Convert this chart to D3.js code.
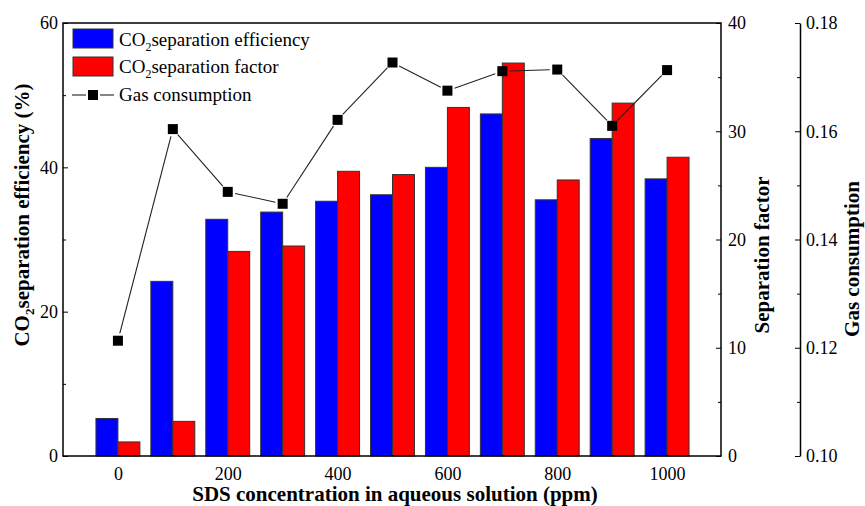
<!DOCTYPE html>
<html>
<head>
<meta charset="utf-8">
<script src="https://cdn.jsdelivr.net/npm/d3@7"></script>
<style>
  body { margin: 0; background: #fff; }
  svg, svg text { font-family: "Liberation Serif", "Times New Roman", serif; }
  .axis text { font-size: 18px; fill: #000; font-family: "Liberation Serif", serif; }
  .axis path, .axis line { stroke: #000; }
  .title { font-size: 21px; font-weight: bold; }
  .legend text { font-size: 19px; }
</style>
</head>
<body>
<div id="chart"></div>
<script>
// SDS concentration (ppm)
var concentrations = [0, 100, 200, 300, 400, 500, 600, 700, 800, 900, 1000];
// CO2 separation efficiency (%) - left axis
var efficiency = [5.2, 24.2, 32.8, 33.8, 35.3, 36.2, 40.0, 47.4, 35.5, 44.0, 38.4];
// CO2 separation factor - right axis
var sepFactor = [1.3, 3.2, 18.9, 19.4, 26.3, 26.0, 32.2, 36.3, 25.5, 32.6, 27.6];
// gas consumption - outer right axis
var gasUse = [0.1213, 0.1604, 0.1488, 0.1466, 0.1621, 0.1727, 0.1675, 0.1711, 0.1714, 0.1610, 0.1713];

var xTicks = [0, 200, 400, 600, 800, 1000];
var leftTicks = [0, 20, 40, 60],
    leftMinor = [10, 30, 50];
var rightTicks = [0, 10, 20, 30, 40],
    rightMinor = [5, 15, 25, 35];
var gasTicks = [0.10, 0.12, 0.14, 0.16, 0.18],
    gasMinor = [0.11, 0.13, 0.15, 0.17];

var W = 865, H = 506;
var plot = {left: 63, right: 721, top: 23, bottom: 456};
var gasAxisX = 800;
var halfBar = 40;

var svg = d3.select("#chart").append("svg")
    .attr("width", W)
    .attr("height", H);

var x = d3.scaleLinear().domain([-100, 1100]).range([plot.left, 722]);
var yL = d3.scaleLinear().domain([0, 60]).range([plot.bottom, plot.top]);
var yR = d3.scaleLinear().domain([0, 40]).range([plot.bottom, plot.top]);
var yG = d3.scaleLinear().domain([0.10, 0.18]).range([plot.bottom, plot.top]);

// bars
svg.append("g").selectAll("rect")
    .data(concentrations)
  .enter().append("rect")
    .attr("x", function (d) { return x(d - halfBar); })
    .attr("y", function (d, i) { return yL(efficiency[i]); })
    .attr("width", function (d) { return x(d) - x(d - halfBar); })
    .attr("height", function (d, i) { return plot.bottom - yL(efficiency[i]); })
    .attr("fill", "#0000ff")
    .attr("stroke", "#333")
    .attr("stroke-width", 1);

svg.append("g").selectAll("rect")
    .data(concentrations)
  .enter().append("rect")
    .attr("x", function (d) { return x(d); })
    .attr("y", function (d, i) { return yR(sepFactor[i]); })
    .attr("width", function (d) { return x(d + halfBar) - x(d); })
    .attr("height", function (d, i) { return plot.bottom - yR(sepFactor[i]); })
    .attr("fill", "#ff0000")
    .attr("stroke", "#333")
    .attr("stroke-width", 1);

// gas consumption line, segments stop short of the markers
var pts = concentrations.map(function (d, i) { return [x(d), yG(gasUse[i])]; });
var gap = 7.5;
var segs = [];
for (var i = 0; i < pts.length - 1; i++) {
  var dx = pts[i + 1][0] - pts[i][0], dy = pts[i + 1][1] - pts[i][1];
  var len = Math.sqrt(dx * dx + dy * dy);
  if (len <= 2 * gap) continue;
  var ux = dx / len, uy = dy / len;
  segs.push([pts[i][0] + ux * gap, pts[i][1] + uy * gap,
             pts[i + 1][0] - ux * gap, pts[i + 1][1] - uy * gap]);
}
svg.append("g").selectAll("line")
    .data(segs)
  .enter().append("line")
    .attr("x1", function (d) { return d[0]; })
    .attr("y1", function (d) { return d[1]; })
    .attr("x2", function (d) { return d[2]; })
    .attr("y2", function (d) { return d[3]; })
    .attr("stroke", "#222")
    .attr("stroke-width", 1.1);

var mk = 10;
svg.append("g").selectAll("rect")
    .data(pts)
  .enter().append("rect")
    .attr("x", function (d) { return d[0] - mk / 2; })
    .attr("y", function (d) { return d[1] - mk / 2; })
    .attr("width", mk)
    .attr("height", mk)
    .attr("fill", "#000");

// frame
svg.append("rect")
    .attr("x", plot.left)
    .attr("y", plot.top)
    .attr("width", plot.right - plot.left)
    .attr("height", plot.bottom - plot.top)
    .attr("fill", "none")
    .attr("stroke", "#000")
    .attr("stroke-width", 1.5);

// x axis: labels only
var xAxis = d3.axisBottom(x).tickValues(xTicks).tickSize(0).tickPadding(11).tickFormat(d3.format("d"));
var gx = svg.append("g")
    .attr("class", "axis")
    .attr("transform", "translate(0," + plot.bottom + ")")
    .call(xAxis);
gx.select(".domain").remove();

// left axis, ticks point into the plot
var gl = svg.append("g")
    .attr("class", "axis")
    .attr("transform", "translate(" + plot.left + ",0)")
    .call(d3.axisLeft(yL).tickValues(leftTicks).tickSizeInner(-5).tickSizeOuter(0).tickPadding(5));
gl.select(".domain").remove();
svg.append("g")
    .attr("class", "axis")
    .attr("transform", "translate(" + plot.left + ",0)")
    .call(d3.axisLeft(yL).tickValues(leftMinor).tickSizeInner(-3).tickSizeOuter(0).tickFormat(""))
    .select(".domain").remove();

// right axis (separation factor)
var gr = svg.append("g")
    .attr("class", "axis")
    .attr("transform", "translate(" + plot.right + ",0)")
    .call(d3.axisRight(yR).tickValues(rightTicks).tickSizeInner(-5).tickSizeOuter(0).tickPadding(7));
gr.select(".domain").remove();
svg.append("g")
    .attr("class", "axis")
    .attr("transform", "translate(" + plot.right + ",0)")
    .call(d3.axisRight(yR).tickValues(rightMinor).tickSizeInner(-3).tickSizeOuter(0).tickFormat(""))
    .select(".domain").remove();

// outer axis (gas consumption)
var gg = svg.append("g")
    .attr("class", "axis")
    .attr("transform", "translate(" + gasAxisX + ",0)")
    .call(d3.axisRight(yG).tickValues(gasTicks).tickSizeInner(-5).tickSizeOuter(0)
            .tickPadding(6).tickFormat(d3.format(".2f")));
gg.select(".domain").attr("stroke-width", 1.5);
svg.append("g")
    .attr("class", "axis")
    .attr("transform", "translate(" + gasAxisX + ",0)")
    .call(d3.axisRight(yG).tickValues(gasMinor).tickSizeInner(-3).tickSizeOuter(0).tickFormat(""))
    .select(".domain").remove();

// axis titles
svg.append("text")
    .attr("class", "title")
    .attr("x", 395)
    .attr("y", 501)
    .attr("text-anchor", "middle")
    .text("SDS concentration in aqueous solution (ppm)");

var lt = svg.append("text")
    .attr("class", "title")
    .attr("transform", "translate(29,215) rotate(-90)")
    .attr("text-anchor", "middle");
lt.append("tspan").text("CO");
lt.append("tspan").attr("font-size", "13px").attr("dy", 5).text("2");
lt.append("tspan").attr("dy", -5).text("separation efficiency (%)");

svg.append("text")
    .attr("class", "title")
    .attr("transform", "translate(769,255) rotate(-90)")
    .attr("text-anchor", "middle")
    .text("Separation factor");

svg.append("text")
    .attr("class", "title")
    .attr("transform", "translate(859,259) rotate(-90)")
    .attr("text-anchor", "middle")
    .text("Gas consumption");

// legend
var lg = svg.append("g").attr("class", "legend");
lg.append("rect").attr("x", 73).attr("y", 29).attr("width", 40).attr("height", 19)
    .attr("fill", "#0000ff").attr("stroke", "#333").attr("stroke-width", 1);
lg.append("rect").attr("x", 73).attr("y", 57).attr("width", 40).attr("height", 19)
    .attr("fill", "#ff0000").attr("stroke", "#333").attr("stroke-width", 1);
lg.append("line").attr("x1", 72).attr("x2", 86).attr("y1", 95).attr("y2", 95)
    .attr("stroke", "#222").attr("stroke-width", 1.1);
lg.append("line").attr("x1", 100).attr("x2", 114).attr("y1", 95).attr("y2", 95)
    .attr("stroke", "#222").attr("stroke-width", 1.1);
lg.append("rect").attr("x", 88).attr("y", 90).attr("width", mk).attr("height", mk)
    .attr("fill", "#000");

var t1 = lg.append("text").attr("x", 119).attr("y", 46);
t1.append("tspan").text("CO");
t1.append("tspan").attr("font-size", "12px").attr("dy", 5).text("2");
t1.append("tspan").attr("dy", -5).text("separation efficiency");
var t2 = lg.append("text").attr("x", 119).attr("y", 73);
t2.append("tspan").text("CO");
t2.append("tspan").attr("font-size", "12px").attr("dy", 5).text("2");
t2.append("tspan").attr("dy", -5).text("separation factor");
lg.append("text").attr("x", 119).attr("y", 101).text("Gas consumption");
</script>
</body>
</html>
